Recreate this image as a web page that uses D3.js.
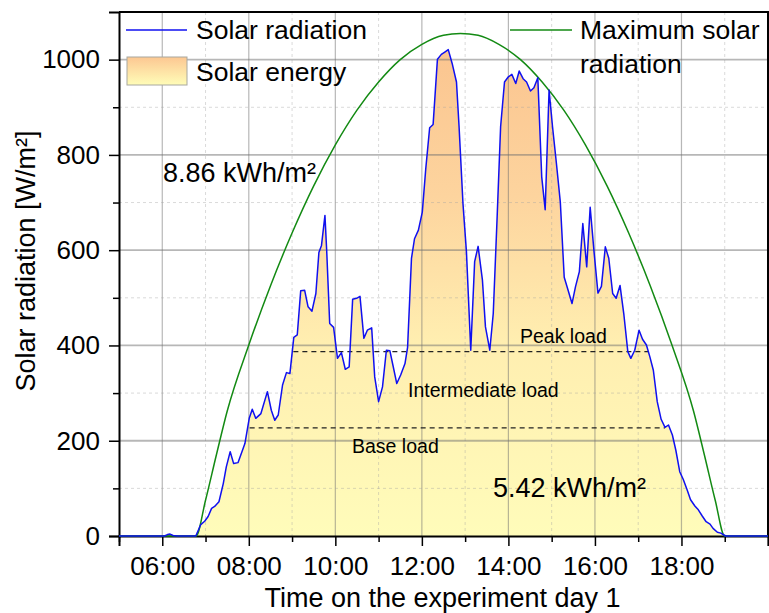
<!DOCTYPE html>
<html>
<head>
<meta charset="utf-8">
<script src="https://cdn.jsdelivr.net/npm/d3@7.9.0/dist/d3.min.js"></script>
<style>
  body { margin: 0; background: #fff; }
  svg { display: block; font-family: "Liberation Sans", Arial, sans-serif; }
</style>
</head>
<body>
<svg id="chart" width="769" height="613"></svg>
<script>
// measured solar radiation, time in decimal hours
const hours = [5.00, 6.05, 6.12, 6.18, 6.25, 6.35, 6.775, 6.89, 6.98, 7.06, 7.14, 7.21, 7.31, 7.41, 7.48, 7.57, 7.65, 7.75, 7.91,
  8.01, 8.08, 8.16, 8.28, 8.43, 8.52, 8.60, 8.68, 8.78, 8.87, 8.95, 9.04, 9.12, 9.20, 9.29, 9.37, 9.46, 9.55, 9.62, 9.68, 9.76, 9.80,
  9.87, 9.96, 10.05, 10.14, 10.23, 10.32, 10.40, 10.49, 10.57, 10.66, 10.74, 10.84, 10.91, 11.00, 11.09, 11.18, 11.26, 11.33, 11.42,
  11.51, 11.61, 11.67, 11.76, 11.83, 11.92, 12.01, 12.09, 12.18, 12.26, 12.36, 12.45, 12.53, 12.61, 12.70, 12.80, 12.86, 12.95,
  13.03, 13.13, 13.22, 13.30, 13.40, 13.47, 13.57, 13.65, 13.74, 13.82, 13.91, 14.00, 14.08, 14.17, 14.25, 14.34, 14.42, 14.51,
  14.59, 14.68, 14.77, 14.85, 14.94, 15.02, 15.11, 15.20, 15.29, 15.38, 15.47, 15.55, 15.64, 15.72, 15.81, 15.89, 15.98, 16.07,
  16.15, 16.24, 16.32, 16.41, 16.49, 16.58, 16.67, 16.76, 16.83, 16.92, 17.02, 17.10, 17.19, 17.27, 17.35, 17.44, 17.53, 17.62,
  17.70, 17.79, 17.87, 17.96, 18.04, 18.13, 18.21, 18.31, 18.39, 18.48, 18.57, 18.66, 18.73, 18.83, 18.91, 19.02, 20.00];
const radiation = [0, 0, 3, 4, 1, 0, 0, 24, 31, 41, 58, 62, 72, 110, 145, 177, 152, 154, 194,
  247, 266, 247, 257, 303, 264, 243, 254, 317, 343, 341, 417, 422, 515, 516, 481, 472, 509, 595, 610, 673, 600,
  446, 438, 373, 385, 350, 355, 497, 499, 503, 415, 432, 437, 334, 282, 313, 390, 389, 359, 320,
  338, 362, 396, 583, 624, 642, 680, 771, 857, 864, 1001, 1011, 1016, 1021, 992, 953, 859, 698,
  597, 390, 576, 608, 537, 439, 390, 467, 670, 859, 953, 964, 969, 950, 976, 960, 953, 934,
  941, 962, 754, 685, 936, 859, 782, 701, 543, 516, 488, 523, 555, 656, 565, 690, 596, 510,
  524, 607, 583, 509, 499, 526, 464, 387, 373, 390, 432, 413, 401, 376, 348, 282, 245, 228,
  233, 212, 180, 135, 119, 97, 76, 63, 55, 42, 30, 25, 16, 8, 6, 0, 0];

// maximum (clear sky) solar radiation
const maxHours = [5.00, 6.78, 7.0, 7.25, 7.5, 8.0, 8.5, 9.0, 9.5, 10.0, 10.5, 11.0, 11.5, 12.0, 12.5, 12.89, 13.3, 13.78, 14.28,
  14.78, 15.28, 15.78, 16.28, 16.78, 17.28, 17.78, 18.28, 18.53, 18.78, 19.0, 20.0];
const maxRadiation = [0, 0, 75, 170, 262, 401, 525, 636, 735, 821, 894, 953, 1000, 1032, 1051, 1055, 1051, 1032, 1000,
  953, 894, 821, 735, 636, 525, 401, 262, 170, 75, 0, 0];

// load levels
const loadNames = ['Base load', 'Peak load'];
const loadValues = [227, 387];
const loadStart = [8.02, 9.03];
const loadEnd = [17.62, 17.23];

const yTicks = [0, 200, 400, 600, 800, 1000];
const xTicks = [6, 8, 10, 12, 14, 16, 18];

const svg = d3.select('#chart');
const mLeft = 119, mRight = 768, mTop = 12, mBottom = 536;

const x = d3.scaleLinear().domain([5, 20]).range([mLeft, mRight]);
const y = d3.scaleLinear().domain([0, 1100]).range([mBottom, mTop]);

const defs = svg.append('defs');
const grad = defs.append('linearGradient')
  .attr('id', 'fillGrad')
  .attr('gradientUnits', 'userSpaceOnUse')
  .attr('x1', 0).attr('x2', 0)
  .attr('y1', y(1020)).attr('y2', y(0));
grad.append('stop').attr('offset', '0%').attr('stop-color', '#fbc590');
grad.append('stop').attr('offset', '30%').attr('stop-color', '#fdd49e');
grad.append('stop').attr('offset', '60%').attr('stop-color', '#ffeeb0');
grad.append('stop').attr('offset', '100%').attr('stop-color', '#fffcba');

const legGrad = defs.append('linearGradient')
  .attr('id', 'legGrad')
  .attr('x1', 0).attr('x2', 0).attr('y1', 0).attr('y2', 1);
legGrad.append('stop').attr('offset', '0%').attr('stop-color', '#fcc792');
legGrad.append('stop').attr('offset', '100%').attr('stop-color', '#fffdb8');

const pts = hours.map((h, i) => [h, radiation[i]]);
const maxPts = maxHours.map((h, i) => [h, maxRadiation[i]]);

// solar energy fill
svg.append('path')
  .datum(pts)
  .attr('fill', 'url(#fillGrad)')
  .attr('d', d3.area().x(d => x(d[0])).y0(y(0)).y1(d => y(d[1])));

// grid
const grid = svg.append('g');
d3.range(6, 20, 1).forEach(h => {
  const major = h % 2 === 0;
  grid.append('line')
    .attr('x1', x(h)).attr('x2', x(h)).attr('y1', mTop).attr('y2', mBottom)
    .attr('stroke', major ? '#707070' : '#a0a0a0')
    .attr('stroke-opacity', major ? 0.5 : 0.4)
    .attr('stroke-width', major ? 1.2 : 1)
    .attr('stroke-dasharray', major ? null : '3,3');
});
d3.range(100, 1100, 100).forEach(v => {
  const major = v % 200 === 0;
  grid.append('line')
    .attr('x1', mLeft).attr('x2', mRight).attr('y1', y(v)).attr('y2', y(v))
    .attr('stroke', major ? '#707070' : '#a0a0a0')
    .attr('stroke-opacity', major ? 0.5 : 0.4)
    .attr('stroke-width', major ? 1.8 : 1)
    .attr('stroke-dasharray', major ? null : '3,3');
});

// load lines
loadValues.forEach((v, i) => {
  svg.append('line')
    .attr('x1', x(loadStart[i])).attr('x2', x(loadEnd[i]))
    .attr('y1', y(v)).attr('y2', y(v))
    .attr('stroke', '#222').attr('stroke-width', 1.4)
    .attr('stroke-dasharray', '5,4');
});

// axes
const xAxis = svg.append('g').attr('transform', `translate(0,${mBottom})`)
  .call(d3.axisBottom(x).tickValues(d3.range(5, 21, 1)).tickSize(10)
    .tickFormat(h => xTicks.includes(h) ? d3.format('02d')(h) + ':00' : ''));
xAxis.selectAll('.tick line').attr('stroke-width', 1.5)
  .attr('y2', h => h % 2 === 0 ? 10 : 6);
xAxis.selectAll('.tick text').attr('font-size', 26).attr('dy', '0.72em').attr('y', 20).attr('font-family', 'Liberation Sans');
xAxis.select('.domain').attr('stroke-width', 2);

const yAxis = svg.append('g').attr('transform', `translate(${mLeft},0)`)
  .call(d3.axisLeft(y).tickValues(d3.range(0, 1100, 100)).tickSize(10)
    .tickFormat(v => yTicks.includes(v) ? v : ''));
yAxis.selectAll('.tick line').attr('stroke-width', 1.5)
  .attr('x2', v => v % 200 === 0 ? -10 : -6);
yAxis.selectAll('.tick text').attr('font-size', 26).attr('x', -19).attr('font-family', 'Liberation Sans');
yAxis.select('.domain').attr('stroke-width', 2);

// frame
svg.append('path')
  .attr('d', `M${mLeft},${mTop}H${mRight}V${mBottom}`)
  .attr('fill', 'none').attr('stroke', '#000').attr('stroke-width', 2);

// maximum solar radiation
svg.append('path')
  .datum(maxPts)
  .attr('fill', 'none')
  .attr('stroke', '#138a13')
  .attr('stroke-width', 1.5)
  .attr('d', d3.line().x(d => x(d[0])).y(d => y(d[1])).curve(d3.curveMonotoneX));

// measured radiation
svg.append('path')
  .datum(pts)
  .attr('fill', 'none')
  .attr('stroke', '#1010f0')
  .attr('stroke-width', 1.5)
  .attr('stroke-linejoin', 'round')
  .attr('d', d3.line().x(d => x(d[0])).y(d => y(d[1])));

// axis titles
svg.append('text')
  .attr('x', (mLeft + mRight) / 2 - 1).attr('y', 607)
  .attr('text-anchor', 'middle').attr('font-size', 27)
  .text('Time on the experiment day 1');
svg.append('text')
  .attr('transform', 'translate(35,261) rotate(-90)')
  .attr('text-anchor', 'middle').attr('font-size', 27)
  .text('Solar radiation [W/m²]');

// annotations
const note = (tx, ty, txt, size) => svg.append('text')
  .attr('x', tx).attr('y', ty).attr('font-size', size).text(txt);
note(163, 182, '8.86 kWh/m²', 27);
note(493, 497, '5.42 kWh/m²', 27);
note(520, 343, loadNames[1], 19.5);
note(408, 397, 'Intermediate load', 19.5);
note(352, 453, loadNames[0], 19.5);

// legend
svg.append('line').attr('x1', 126).attr('x2', 187).attr('y1', 30).attr('y2', 30)
  .attr('stroke', '#1010f0').attr('stroke-width', 1.5);
note(196, 39, 'Solar radiation', 26.5);
svg.append('rect').attr('x', 127).attr('y', 57).attr('width', 60).attr('height', 28)
  .attr('fill', 'url(#legGrad)').attr('stroke', '#a8a8a0').attr('stroke-width', 1);
note(196, 81, 'Solar energy', 26.5);
svg.append('line').attr('x1', 510).attr('x2', 572).attr('y1', 30).attr('y2', 30)
  .attr('stroke', '#138a13').attr('stroke-width', 1.5);
note(580, 39, 'Maximum solar', 26.5);
note(580, 73, 'radiation', 26.5);
</script>
</body>
</html>
